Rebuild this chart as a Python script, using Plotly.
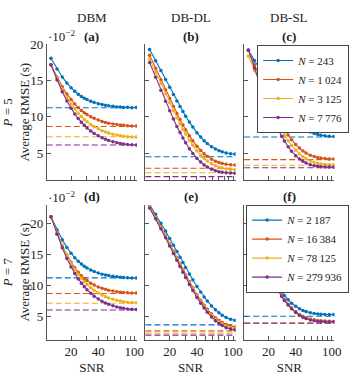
import math
import plotly.graph_objects as go

# ---------------- data ----------------
snr = [12, 14, 16, 18, 20, 22, 24, 26, 28, 30, 33, 36, 40, 44, 48, 52, 58, 64, 70, 76, 84, 94, 105]

# (a) DBM, P = 5
dbm5_243 = [18.10, 16.63, 15.52, 14.68, 14.02, 13.53, 13.13, 12.83, 12.58, 12.39, 12.16, 11.99, 11.82, 11.70, 11.61, 11.54, 11.46, 11.38, 11.36, 11.31, 11.33, 11.28, 11.30]
dbm5_1024 = [17.20, 15.49, 14.18, 13.17, 12.39, 11.78, 11.29, 10.90, 10.59, 10.33, 10.03, 9.80, 9.56, 9.38, 9.24, 9.14, 9.02, 8.94, 8.88, 8.83, 8.79, 8.76, 8.74]
dbm5_3125 = [17.20, 15.30, 13.84, 12.69, 11.79, 11.08, 10.51, 10.04, 9.65, 9.34, 8.95, 8.65, 8.35, 8.10, 7.92, 7.77, 7.61, 7.49, 7.40, 7.33, 7.27, 7.23, 7.21]
dbm5_7776 = [17.20, 15.09, 13.48, 12.19, 11.20, 10.41, 9.77, 9.26, 8.83, 8.48, 8.05, 7.71, 7.38, 7.11, 6.90, 6.74, 6.56, 6.42, 6.33, 6.26, 6.19, 6.14, 6.11]

# (b) DB-DL, P = 5
dbdl5_243 = [19.30, 17.77, 16.40, 15.18, 14.08, 13.10, 12.21, 11.43, 10.73, 10.10, 9.28, 8.59, 7.82, 7.21, 6.71, 6.32, 5.88, 5.56, 5.33, 5.17, 5.02, 4.92, 4.86]
dbdl5_1024 = [18.50, 16.71, 15.14, 13.74, 12.53, 11.43, 10.47, 9.64, 8.89, 8.24, 7.39, 6.69, 5.94, 5.35, 4.90, 4.55, 4.16, 3.89, 3.71, 3.58, 3.47, 3.40, 3.36]
dbdl5_3125 = [18.00, 16.19, 14.61, 13.20, 11.97, 10.86, 9.90, 9.05, 8.30, 7.64, 6.78, 6.07, 5.32, 4.72, 4.26, 3.91, 3.52, 3.25, 3.06, 2.93, 2.82, 2.75, 2.71]
dbdl5_7776 = [17.50, 15.47, 13.69, 12.16, 10.84, 9.70, 8.69, 7.83, 7.08, 6.42, 5.61, 4.95, 4.27, 3.76, 3.37, 3.08, 2.77, 2.57, 2.44, 2.36, 2.29, 2.25, 2.23]

# (c) DB-SL, P = 5
dbsl5_243 = [19.20, 17.79, 16.56, 15.46, 14.50, 13.64, 12.89, 12.23, 11.65, 11.13, 10.46, 9.91, 9.33, 8.86, 8.50, 8.23, 7.92, 7.71, 7.57, 7.47, 7.38, 7.33, 7.30]
dbsl5_1024 = [19.20, 17.20, 15.45, 13.95, 12.65, 11.52, 10.53, 9.69, 8.95, 8.30, 7.51, 6.86, 6.18, 5.69, 5.30, 5.01, 4.71, 4.52, 4.39, 4.31, 4.24, 4.20, 4.18]
dbsl5_3125 = [18.40, 16.40, 14.65, 13.15, 11.85, 10.72, 9.73, 8.89, 8.15, 7.50, 6.71, 6.06, 5.38, 4.89, 4.50, 4.21, 3.91, 3.72, 3.59, 3.51, 3.44, 3.40, 3.38]
dbsl5_7776 = [19.25, 16.76, 14.67, 12.88, 11.36, 10.10, 9.01, 8.09, 7.33, 6.66, 5.87, 5.24, 4.62, 4.18, 3.86, 3.63, 3.40, 3.26, 3.18, 3.13, 3.09, 3.07, 3.06]

# (d) DBM, P = 7
dbm7_2187 = [21.10, 18.97, 17.36, 16.13, 15.18, 14.46, 13.89, 13.44, 13.08, 12.80, 12.47, 12.22, 11.98, 11.80, 11.67, 11.57, 11.45, 11.37, 11.31, 11.27, 11.23, 11.20, 11.19]
dbm7_16384 = [21.10, 18.45, 16.44, 14.90, 13.72, 12.83, 12.11, 11.55, 11.11, 10.76, 10.35, 10.04, 9.74, 9.51, 9.35, 9.22, 9.08, 8.98, 8.90, 8.85, 8.80, 8.77, 8.75]
dbm7_78125 = [21.10, 18.45, 16.42, 14.81, 13.57, 12.57, 11.78, 11.13, 10.59, 10.15, 9.61, 9.19, 8.77, 8.43, 8.17, 7.97, 7.74, 7.57, 7.45, 7.36, 7.27, 7.21, 7.18]
dbm7_279936 = [21.10, 18.25, 16.06, 14.32, 12.98, 11.90, 11.04, 10.35, 9.76, 9.29, 8.70, 8.25, 7.80, 7.43, 7.15, 6.94, 6.69, 6.51, 6.37, 6.28, 6.19, 6.12, 6.08]

# (e) DB-DL, P = 7
dbdl7_2187 = [23.00, 21.47, 20.05, 18.77, 17.58, 16.47, 15.47, 14.54, 13.67, 12.89, 11.84, 10.90, 9.81, 8.91, 8.12, 7.47, 6.67, 6.05, 5.56, 5.18, 4.80, 4.53, 4.34]
dbdl7_16384 = [22.80, 21.07, 19.50, 18.04, 16.73, 15.54, 14.44, 13.43, 12.51, 11.68, 10.56, 9.59, 8.47, 7.56, 6.78, 6.12, 5.37, 4.77, 4.32, 3.98, 3.65, 3.43, 3.26]
dbdl7_78125 = [22.70, 20.96, 19.37, 17.91, 16.58, 15.38, 14.28, 13.26, 12.33, 11.49, 10.37, 9.39, 8.26, 7.34, 6.56, 5.90, 5.14, 4.53, 4.09, 3.74, 3.41, 3.18, 3.02]
dbdl7_279936 = [22.50, 20.75, 19.16, 17.70, 16.37, 15.16, 14.06, 13.03, 12.11, 11.26, 10.14, 9.15, 8.03, 7.10, 6.32, 5.66, 4.89, 4.29, 3.84, 3.50, 3.16, 2.93, 2.77]

# (f) DB-SL, P = 7
dbsl7_2187 = [23.80, 20.00, 17.20, 15.00, 13.20, 11.80, 10.60, 9.70, 8.95, 8.35, 7.65, 7.10, 6.60, 6.20, 5.95, 5.75, 5.55, 5.45, 5.38, 5.33, 5.30, 5.28, 5.27]
dbsl7_16384 = [23.60, 19.75, 16.90, 14.70, 12.85, 11.35, 10.15, 9.15, 8.35, 7.70, 6.95, 6.35, 5.75, 5.30, 5.00, 4.77, 4.55, 4.42, 4.33, 4.27, 4.22, 4.19, 4.17]
dbsl7_78125 = [23.55, 19.70, 16.80, 14.60, 12.75, 11.25, 10.05, 9.05, 8.25, 7.60, 6.85, 6.25, 5.65, 5.20, 4.90, 4.67, 4.45, 4.31, 4.22, 4.17, 4.14, 4.12, 4.11]
dbsl7_279936 = [23.50, 19.60, 16.70, 14.50, 12.70, 11.20, 10.00, 9.00, 8.20, 7.55, 6.80, 6.20, 5.60, 5.15, 4.85, 4.62, 4.40, 4.27, 4.19, 4.15, 4.12, 4.11, 4.10]

# dashed bound levels (one per N, same order)
bound_dbm5 = [11.27, 8.67, 7.25, 6.12]
bound_dbdl5 = [4.50, 2.90, 2.28, 1.75]
bound_dbsl5 = [7.22, 4.10, 3.33, 2.98]
bound_dbm7 = [11.20, 8.68, 7.10, 6.00]
bound_dbdl7 = [3.60, 2.64, 2.28, 1.95]
bound_dbsl7 = [5.00, 3.92, 3.90, 3.88]

n_labels_p5 = ["243", "1\u2009024", "3\u2009125", "7\u2009776"]
n_labels_p7 = ["2\u2009187", "16\u2009384", "78\u2009125", "279\u2009936"]
method_titles = ["DBM", "DB-DL", "DB-SL"]
panel_letters = ["(a)", "(b)", "(c)", "(d)", "(e)", "(f)"]
row_titles = ["<i>P</i> = 5<br>Average RMSE (s)", "<i>P</i> = 7<br>Average RMSE (s)"]
x_major_ticks = [20, 40, 100]
x_minor_ticks = [30, 50, 60, 70, 80, 90]
y_tickvals = [5, 10, 15, 20]

colors = ["#0072BD", "#D95319", "#EDB120", "#7E2F8E"]

# ---------------- layout geometry (pixels) ----------------
W, H = 363, 375
SERIF = "Liberation Serif"
AX = "#555555"
TXT = "#222222"


def fx(p):
    return p / W


def fy(p):
    return 1 - p / H


col_px = [(47.7, 139.7), (148.3, 240.3), (249.0, 341.0)]
row_px = [(38.3, 178.0), (203.3, 341.7)]
y_ranges = [[1.25, 20.03], [1.23, 23.0]]
x_range = [math.log10(10.8), math.log10(107)]

panels = [
    (0, 0, [dbm5_243, dbm5_1024, dbm5_3125, dbm5_7776], bound_dbm5),
    (0, 1, [dbdl5_243, dbdl5_1024, dbdl5_3125, dbdl5_7776], bound_dbdl5),
    (0, 2, [dbsl5_243, dbsl5_1024, dbsl5_3125, dbsl5_7776], bound_dbsl5),
    (1, 0, [dbm7_2187, dbm7_16384, dbm7_78125, dbm7_279936], bound_dbm7),
    (1, 1, [dbdl7_2187, dbdl7_16384, dbdl7_78125, dbdl7_279936], bound_dbdl7),
    (1, 2, [dbsl7_2187, dbsl7_16384, dbsl7_78125, dbsl7_279936], bound_dbsl7),
]

fig = go.Figure()
layout_axes = {}
annotations = []

for k, (r, c, series, bounds) in enumerate(panels):
    idx = k + 1
    sfx = "" if idx == 1 else str(idx)
    xa, ya = "x" + sfx, "y" + sfx
    labels = n_labels_p5 if r == 0 else n_labels_p7
    for j, vals in enumerate(series):
        fig.add_trace(go.Scatter(
            x=snr, y=vals, mode="lines+markers",
            line=dict(color=colors[j], width=1.1),
            marker=dict(color=colors[j], size=3.5),
            name="<i>N</i> = " + labels[j],
            xaxis=xa, yaxis=ya,
            showlegend=(c == 2),
            legend="legend" if r == 0 else "legend2",
        ))
    for j, b in enumerate(bounds):
        fig.add_shape(type="line", xref=xa + " domain", yref=ya,
                      x0=0, x1=1, y0=b, y1=b, layer="below",
                      line=dict(color=colors[j], width=1.1, dash="6px,3px"))

    x0p, x1p = col_px[c]
    y0p, y1p = row_px[r]
    xax = dict(
        type="log", range=x_range, domain=[fx(x0p), fx(x1p)], anchor=ya,
        showline=True, linecolor=AX, linewidth=1, mirror=False,
        ticks="inside", ticklen=4, tickcolor=AX, tickwidth=1,
        tickmode="array", tickvals=x_major_ticks,
        minor=dict(tickmode="array", tickvals=x_minor_ticks, ticks="inside",
                   ticklen=4, tickcolor=AX, tickwidth=1, showgrid=False),
        showticklabels=(r == 1), showgrid=False, zeroline=False,
        tickfont=dict(family=SERIF, size=13, color=TXT),
    )
    if r == 1:
        xax["title"] = dict(text="SNR", standoff=7,
                            font=dict(family=SERIF, size=13, color=TXT))
    yax = dict(
        range=y_ranges[r], domain=[fy(y1p), fy(y0p)], anchor=xa,
        showline=True, linecolor=AX, linewidth=1, mirror=False,
        ticks="inside", ticklen=4, tickcolor=AX, tickwidth=1,
        tickmode="array", tickvals=y_tickvals, showticklabels=(c == 0),
        showgrid=False, zeroline=False,
        tickfont=dict(family=SERIF, size=13, color=TXT),
    )
    if c == 0:
        yax["title"] = dict(text=row_titles[r], standoff=2,
                            font=dict(family=SERIF, size=13, color=TXT))
    layout_axes["xaxis" + sfx] = xax
    layout_axes["yaxis" + sfx] = yax

    # panel letter
    annotations.append(dict(
        text="<b>" + panel_letters[k] + "</b>", xref="paper", yref="paper",
        x=fx((x0p + x1p) / 2), y=fy(y0p - 8.5), xanchor="center", yanchor="middle",
        showarrow=False, font=dict(family=SERIF, size=13, color=TXT)))
    # exponent label on first column
    if c == 0:
        annotations.append(dict(
            text="·10<sup>−2</sup>", xref="paper", yref="paper",
            x=fx(x0p - 1), y=fy(y0p - 8.5), xanchor="left", yanchor="middle",
            showarrow=False, font=dict(family=SERIF, size=13, color=TXT)))

for c, t in enumerate(method_titles):
    x0p, x1p = col_px[c]
    annotations.append(dict(
        text=t, xref="paper", yref="paper", x=fx((x0p + x1p) / 2), y=fy(11),
        xanchor="center", yanchor="middle", showarrow=False,
        font=dict(family=SERIF, size=13, color=TXT)))

legend_style = dict(
    bgcolor="white", bordercolor="#444", borderwidth=1,
    font=dict(family=SERIF, size=11, color=TXT),
    xanchor="right", yanchor="top", tracegroupgap=0,
    itemwidth=30,
)

fig.update_layout(
    width=W, height=H, margin=dict(l=0, r=0, t=0, b=0),
    paper_bgcolor="white", plot_bgcolor="white",
    font=dict(family=SERIF, color=TXT),
    annotations=annotations,
    legend=dict(x=fx(356), y=fy(39), **legend_style),
    legend2=dict(x=fx(356), y=fy(203), **legend_style),
    **layout_axes,
)

fig.write_html("out.html")
